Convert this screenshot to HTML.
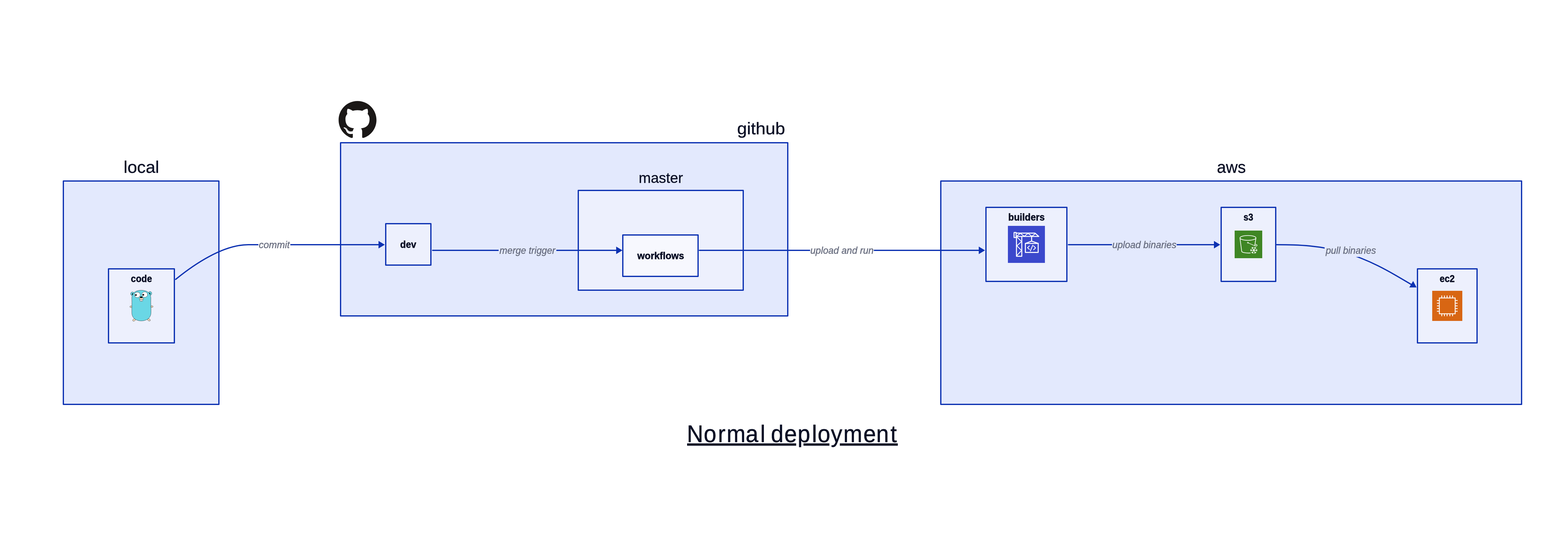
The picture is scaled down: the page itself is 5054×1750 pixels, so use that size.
<!DOCTYPE html>
<html lang="en">
<head>
<meta charset="utf-8">
<title>Normal deployment</title>
<style>
html,body{margin:0;padding:0;background:#ffffff;}
body{width:5054px;height:1750px;overflow:hidden;}
svg{display:block;will-change:transform;}
text{font-family:"Liberation Sans",sans-serif;white-space:pre;}
.box{stroke:#0D32B2;stroke-width:4;stroke-linejoin:round;}
.edge{fill:none;stroke:#0D32B2;stroke-width:4;stroke-linecap:round;stroke-linejoin:round;}
.arrow{fill:#0D32B2;}
.lbl{fill:#0A0F25;}
.b{font-weight:bold;}
.i{font-style:italic;fill:#676C7E;}
.w{fill:none;stroke:#ffffff;stroke-linecap:round;stroke-linejoin:round;}
</style>
</head>
<body>
<svg width="5054" height="1750" viewBox="0 0 5054 1750">
<rect x="0" y="0" width="5054" height="1750" fill="#ffffff"/>
<g id="containers">
<rect class="box" x="202" y="577" width="496" height="712" fill="#E3E9FD"/>
<rect class="box" x="1086" y="455" width="1426" height="552" fill="#E3E9FD"/>
<rect class="box" x="3000" y="577" width="1852" height="712" fill="#E3E9FD"/>
<rect class="box" x="1844" y="607" width="526" height="318" fill="#EDF0FD"/>
</g>
<g id="edges">
<path class="edge" d="M 560.3 890.4 C 617.4 843.8 710.5 780 791.7 780 L 1208 780"/>
<rect x="824" y="760" width="101.8" height="42" fill="#ffffff"/>
<polygon class="arrow" transform="translate(1227,780) rotate(0)" points="0,0 -20,-12 -20,12"/>
<path class="edge" d="M 1379.5 798 L 1966 798"/>
<rect x="1590" y="777" width="184" height="42" fill="#E3E9FD"/>
<polygon class="arrow" transform="translate(1984.8,798) rotate(0)" points="0,0 -20,-12 -20,12"/>
<path class="edge" d="M 2230.3 798 L 3123 798"/>
<rect x="2583.3" y="777" width="203.2" height="42" fill="#ffffff"/>
<polygon class="arrow" transform="translate(3141,798) rotate(0)" points="0,0 -20,-12 -20,12"/>
<path class="edge" d="M 3407 780 L 3873 780"/>
<rect x="3545.9" y="759" width="206.2" height="42" fill="#E3E9FD"/>
<polygon class="arrow" transform="translate(3891,780) rotate(0)" points="0,0 -20,-12 -20,12"/>
<path class="edge" d="M 4071.0 780.0 C 4088.9 780.00 4106.9 780.15 4124.8 780.77 C 4142.7 781.39 4160.7 782.49 4178.6 784.29 C 4196.5 786.09 4214.5 788.59 4232.4 791.94 C 4250.3 795.29 4268.3 799.49 4286.2 804.65 C 4304.1 809.80 4322.1 815.91 4340.0 823.00 C 4357.9 830.08 4375.9 838.14 4393.8 847.04 C 4411.7 855.95 4429.7 865.71 4447.6 875.95 C 4465.5 886.19 4483.5 896.92 4501.4 907.37"/>
<rect x="4224" y="777" width="166" height="42" fill="#E3E9FD"/>
<polygon class="arrow" transform="translate(4517.2,916.3) rotate(30.8)" points="0,0 -20,-12 -20,12"/>
</g>
<g id="shapes">
<rect class="box" x="346" y="857" width="210" height="236" fill="#EDF0FD"/>
<rect class="box" x="1230" y="713" width="144" height="132" fill="#EDF0FD"/>
<rect class="box" x="1986" y="749" width="240" height="132" fill="#F7F8FE"/>
<rect class="box" x="3144" y="661" width="258" height="236" fill="#EDF0FD"/>
<rect class="box" x="3894" y="661" width="174" height="236" fill="#EDF0FD"/>
<rect class="box" x="4520" y="857" width="190" height="236" fill="#EDF0FD"/>
</g>
<g id="labels">
<text class="lbl" font-size="53.5" stroke="#0A0F25" stroke-width="0.56" stroke-linejoin="round" transform="translate(394.20,550.80) scale(1.0306,1.0)">local</text>
<text class="lbl" font-size="53.5" stroke="#0A0F25" stroke-width="0.56" stroke-linejoin="round" transform="translate(2350.53,428.40) scale(1.0497,1.0)">github</text>
<text class="lbl" font-size="45.7" stroke="#0A0F25" stroke-width="0.48" stroke-linejoin="round" transform="translate(2036.63,582.70) scale(1.0122,1.0)">master</text>
<text class="lbl" font-size="53.5" stroke="#0A0F25" stroke-width="0.56" stroke-linejoin="round" transform="translate(3880.55,550.80) scale(0.9675,1.0)">aws</text>
<text class="lbl b" font-size="30.6" stroke="#0A0F25" stroke-width="0.80" stroke-linejoin="round" transform="translate(417.34,898.50) scale(0.9443,1.0)">code</text>
<text class="lbl b" font-size="30.6" stroke="#0A0F25" stroke-width="0.80" stroke-linejoin="round" transform="translate(1276.11,789.60) scale(0.9708,1.0)">dev</text>
<text class="lbl b" font-size="30.6" stroke="#0A0F25" stroke-width="0.80" stroke-linejoin="round" transform="translate(2032.30,825.60) scale(0.9973,1.0)">workflows</text>
<text class="lbl b" font-size="30.6" stroke="#0A0F25" stroke-width="0.80" stroke-linejoin="round" transform="translate(3214.95,702.50) scale(0.9783,1.0)">builders</text>
<text class="lbl b" font-size="30.6" stroke="#0A0F25" stroke-width="0.80" stroke-linejoin="round" transform="translate(3965.33,702.50) scale(0.9083,1.0)">s3</text>
<text class="lbl b" font-size="30.6" stroke="#0A0F25" stroke-width="0.80" stroke-linejoin="round" transform="translate(4590.85,898.50) scale(0.9394,1.0)">ec2</text>
<text class="i" font-size="30.6" stroke="#676C7E" stroke-width="0.49" stroke-linejoin="round" transform="translate(825.17,790.60) scale(1.0008,1.0)">commit</text>
<text class="i" font-size="30.6" stroke="#676C7E" stroke-width="0.49" stroke-linejoin="round" transform="translate(1592.85,808.60) scale(0.9783,1.0)">merge trigger</text>
<text class="i" font-size="30.6" stroke="#676C7E" stroke-width="0.49" stroke-linejoin="round" transform="translate(2584.03,808.60) scale(0.9891,1.0)">upload and run</text>
<text class="i" font-size="30.6" stroke="#676C7E" stroke-width="0.49" stroke-linejoin="round" transform="translate(3546.94,790.60) scale(0.9843,1.0)">upload binaries</text>
<text class="i" font-size="30.6" stroke="#676C7E" stroke-width="0.49" stroke-linejoin="round" transform="translate(4227.40,808.60) scale(0.9817,1.0)">pull binaries</text>
<text class="lbl" font-size="75.5" stroke="#0A0F25" stroke-width="0.79" stroke-linejoin="round" transform="translate(0,1408.60) scale(0.96,1)" x="2281.48 2337.50 2384.63 2413.43 2476.92 2525.25 2542.99 2560.74 2605.14 2649.25 2696.86 2715.78 2759.98 2801.29 2867.59 2910.52 2957.89" y="0">Normal deployment</text>
</g>
<g id="title-underline" fill="#0A0F25">
<rect x="2191" y="1413.3" width="347.8" height="7.4"/>
<rect x="2562.1" y="1413.3" width="82.7" height="7.4"/>
<rect x="2678" y="1413.3" width="184.9" height="7.4"/>
</g>
<g id="icon-github" transform="translate(1079.7,320.5) scale(5.033)">
<path fill="#1B1817" d="M12 .297c-6.63 0-12 5.373-12 12 0 5.303 3.438 9.8 8.205 11.385.6.113.82-.258.82-.577 0-.285-.01-1.04-.015-2.04-3.338.724-4.042-1.61-4.042-1.61C4.422 18.07 3.633 17.7 3.633 17.7c-1.087-.744.084-.729.084-.729 1.205.084 1.838 1.236 1.838 1.236 1.07 1.835 2.809 1.305 3.495.998.108-.776.417-1.305.76-1.605-2.665-.3-5.466-1.332-5.466-5.93 0-1.31.465-2.38 1.235-3.22-.135-.303-.54-1.523.105-3.176 0 0 1.005-.322 3.3 1.23.96-.267 1.98-.399 3-.405 1.02.006 2.04.138 3 .405 2.28-1.552 3.285-1.23 3.285-1.23.645 1.653.24 2.873.12 3.176.765.84 1.23 1.91 1.23 3.22 0 4.61-2.805 5.625-5.475 5.92.42.36.81 1.096.81 2.22 0 1.606-.015 2.896-.015 3.286 0 .315.21.69.825.57C20.565 22.092 24 17.592 24 12.297c0-6.627-5.373-12-12-12"/>
</g>
<g id="icon-github-tail" fill="#1B1817"><circle cx="1101.7" cy="408.2" r="0.75"/><circle cx="1104.1" cy="410.7" r="0.75"/><circle cx="1106.6" cy="413.8" r="0.75"/><circle cx="1109.7" cy="417.2" r="0.75"/><circle cx="1113.7" cy="419.9" r="0.75"/><circle cx="1118.6" cy="420.6" r="0.75"/><circle cx="1123.3" cy="420.1" r="0.75"/></g>
<g id="icon-gopher" transform="translate(390,910) scale(0.14569)" stroke="#000" stroke-width="4.5">
<ellipse cx="190" cy="465" rx="25" ry="18" fill="#F5DABB"/>
<ellipse cx="648" cy="462" rx="25" ry="18" fill="#F5DABB"/>
<ellipse cx="258" cy="755" rx="34" ry="22" fill="#F5DABB" transform="rotate(-32 258 755)"/>
<ellipse cx="582" cy="752" rx="34" ry="22" fill="#F5DABB" transform="rotate(32 582 752)"/>
<circle cx="222" cy="182" r="40" fill="#6AD7E5"/>
<ellipse cx="607" cy="174" rx="38" ry="43" fill="#6AD7E5"/>
<ellipse cx="226" cy="190" rx="15" ry="19" fill="#000" stroke="none"/>
<ellipse cx="598" cy="180" rx="15" ry="19" fill="#000" stroke="none"/>
<path fill="#6AD7E5" d="M 208 300 C 200 165 290 104 415 104 C 540 104 633 165 625 300 C 620 400 632 500 628 600 C 624 720 520 775 415 775 C 310 775 212 720 208 600 C 205 500 214 400 208 300 Z"/>
<ellipse cx="328.800" cy="205" rx="63" ry="60" fill="#fff"/>
<ellipse cx="489.800" cy="199.500" rx="62.500" ry="60.500" fill="#fff"/>
<circle cx="298" cy="210" r="19" fill="#000" stroke="none"/>
<circle cx="460" cy="205" r="19" fill="#000" stroke="none"/>
<circle cx="306" cy="214" r="5" fill="#fff" stroke="none"/>
<circle cx="468" cy="209" r="5" fill="#fff" stroke="none"/>
<rect x="388" y="296" width="57" height="50" rx="9" fill="#fff"/>
<line x1="416.500" y1="300" x2="416.500" y2="345"/>
<ellipse cx="418" cy="290" rx="49" ry="21" fill="#F5DABB"/>
<ellipse cx="415" cy="258" rx="28" ry="17" fill="#000" stroke="none"/>
</g>
<g id="icon-codebuild" transform="translate(3214,720) scale(0.156915) translate(-63,-63)">
<rect x="63" y="63" width="752" height="752" fill="#3B48CC"/>
<g class="w" stroke-width="20">
<rect x="188" y="198" width="42" height="102"/>
<path d="M 230 210 L 612 210 L 690 278 L 230 278"/>
<path d="M 237 280 L 237 680 L 345 680 L 345 280"/>
<path d="M 545 280 L 545 372 M 420 420 L 545 372 L 680 420"/>
<rect x="418" y="420" width="260" height="182"/>
</g>
<g class="w" stroke-width="16">
<path d="M 238 274 L 316 216 L 395 274 L 472 216 L 550 274 L 625 218"/>
<path d="M 245 288 L 340 382 L 245 468 L 340 562 L 245 664"/>
<path d="M 500 470 L 462 506 L 500 542 M 568 456 L 518 574 M 585 470 L 625 510 L 585 548"/>
</g>
</g>
<g id="icon-s3" transform="translate(3937,735) scale(0.123077) translate(-88,-88)">
<rect x="88" y="88" width="715" height="715" fill="#3F8624"/>
<g class="w" stroke-width="17">
<ellipse cx="433" cy="278" rx="207" ry="62"/>
<path d="M 227 288 L 271 628 C 285 655 380 676 494 668"/>
<path d="M 639 288 L 613 452"/>
<circle cx="432" cy="402" r="14" stroke-width="12"/>
<path d="M 446 410 L 612 482" stroke-width="13"/>
<ellipse cx="640" cy="466" rx="30" ry="21" transform="rotate(28 640 466)" stroke-width="13"/>
</g>
<g class="w" stroke-width="14" transform="rotate(90 585 597)">
<path d="M 585 510 L 585 685 M 509 553 L 661 641 M 661 553 L 509 641"/>
<path d="M 563 520 L 585 540 L 607 520 M 563 675 L 585 655 L 607 675"/>
<path d="M 506 582 L 535 568 L 531 538 M 664 612 L 635 626 L 639 656"/>
<path d="M 664 582 L 635 568 L 639 538 M 506 612 L 535 626 L 531 656"/>
</g>
</g>
<g id="icon-ec2" transform="translate(4567,927) scale(0.134266) translate(-88,-88)">
<rect x="88" y="88" width="715" height="715" fill="#D86613"/>
<rect x="258" y="258" width="375" height="375" fill="none" stroke="#fff" stroke-width="20"/>
<g fill="#fff">
<rect x="305" y="200" width="20" height="50"/><rect x="368" y="200" width="20" height="50"/><rect x="431" y="200" width="20" height="50"/><rect x="498" y="200" width="20" height="50"/><rect x="561" y="200" width="20" height="50"/>
<rect x="305" y="641" width="20" height="50"/><rect x="368" y="641" width="20" height="50"/><rect x="431" y="641" width="20" height="50"/><rect x="498" y="641" width="20" height="50"/><rect x="561" y="641" width="20" height="50"/>
<rect x="200" y="308" width="50" height="20"/><rect x="200" y="372" width="50" height="20"/><rect x="200" y="436" width="50" height="20"/><rect x="200" y="499" width="50" height="20"/><rect x="200" y="563" width="50" height="20"/>
<rect x="641" y="308" width="50" height="20"/><rect x="641" y="372" width="50" height="20"/><rect x="641" y="436" width="50" height="20"/><rect x="641" y="499" width="50" height="20"/><rect x="641" y="563" width="50" height="20"/>
</g>
</g>
</svg>
</body>
</html>
